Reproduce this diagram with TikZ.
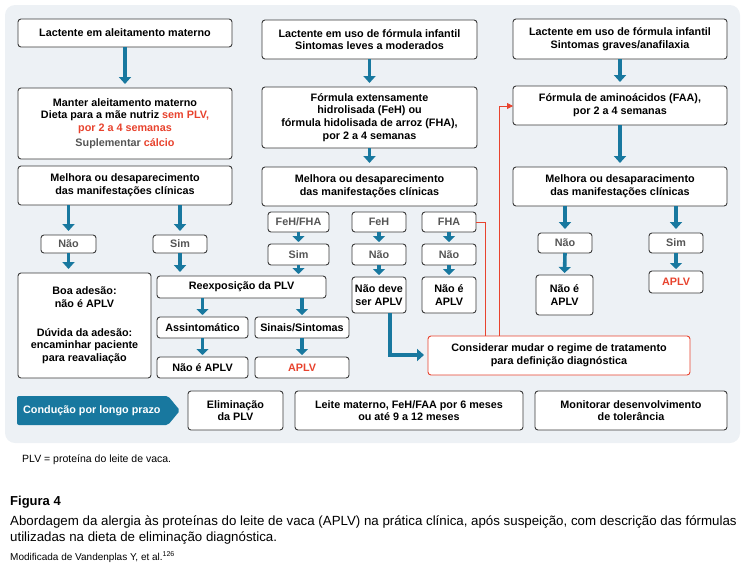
\documentclass[tikz,border=0pt]{standalone}
\usepackage{fontspec}
\setmainfont{Liberation Sans}
\usetikzlibrary{arrows.meta}
\definecolor{panel}{HTML}{EDF1F5}
\definecolor{ablue}{HTML}{18789F}
\definecolor{ared}{HTML}{E8432E}
\definecolor{bgray}{HTML}{3A3A3A}
\definecolor{tgray}{HTML}{555555}
\newcommand\bx[7]{\node[#6, minimum width={(#4-#2)*1pt}, minimum height={(#5-#3)*1pt}] (#1) at ({(#2+#4)/2},{(#3+#5)/2}) {#7};}
\tikzset{
  box/.style={draw=bgray, fill=white, rounded corners=3pt, line width=0.9pt, inner sep=0pt, outer sep=0pt, align=center, font=\bfseries\fontsize{10.8}{12.7}\selectfont, text=black},
  lbl/.style={box, text=tgray},
  redbox/.style={box, draw=ared},
  barrow/.style={draw=ablue, line width=3.6pt, -{Triangle[width=12pt,length=7pt]}, shorten >=4pt},
  sarrow/.style={draw=ablue, line width=3.6pt, -{Triangle[width=12pt,length=6pt]}, shorten >=2pt},
  rline/.style={draw=ared, line width=0.8pt},
}
\begin{document}
\begin{tikzpicture}[x=1pt,y=-1pt]
\useasboundingbox (0,0) rectangle (750,571);
\fill[panel, rounded corners=10pt] (5,5) rectangle (740,443);
% left column
\bx{b1}{18}{19}{232}{47}{box}{Lactente em aleitamento materno}
\bx{b2}{18}{88}{232}{159}{box}{Manter aleitamento materno\\Dieta para a mãe nutriz \textcolor{ared}{sem PLV,}\\\textcolor{ared}{por 2 a 4 semanas}\\[2pt]\textcolor{tgray}{Suplementar} \textcolor{ared}{cálcio}}
\bx{b3}{18}{166}{232}{205}{box}{Melhora ou desaparecimento\\das manifestações clínicas}
\bx{lnao}{41}{235}{96}{253}{lbl}{Não}
\bx{lsim}{153}{235}{207}{253}{lbl}{Sim}
\bx{boa}{18}{273}{151}{378}{box}{Boa adesão:\\não é APLV\\[16pt]Dúvida da adesão:\\encaminhar paciente\\para reavaliação}
\bx{reex}{157}{276}{326}{298}{box}{Reexposição da PLV}
\bx{assin}{157}{317}{248}{338}{box}{Assintomático}
\bx{sinais}{255}{317}{349}{338}{box}{Sinais/Sintomas}
\bx{naoe1}{157}{357}{248}{378}{box}{Não é APLV}
\bx{aplv1}{255}{357}{349}{378}{box}{\textcolor{ared}{APLV}}
% middle column
\bx{m1}{262}{20}{477}{59}{box}{Lactente em uso de fórmula infantil\\Sintomas leves a moderados}
\bx{m2}{262}{87}{477}{148}{box}{Fórmula extensamente\\hidrolisada (FeH) ou\\fórmula hidolisada de arroz (FHA),\\por 2 a 4 semanas}
\bx{m3}{262}{167}{477}{206}{box}{Melhora ou desaparecimento\\das manifestações clínicas}
\bx{fehfha}{268}{212}{329}{232}{lbl}{FeH/FHA}
\bx{msim}{268}{244}{329}{265}{lbl}{Sim}
\bx{feh}{352}{212}{406}{232}{lbl}{FeH}
\bx{mnao1}{352}{244}{406}{265}{lbl}{Não}
\bx{naodeve}{352}{277}{406}{313}{box}{Não deve\\ser APLV}
\bx{fha}{422}{212}{476}{232}{lbl}{FHA}
\bx{mnao2}{422}{244}{476}{265}{lbl}{Não}
\bx{naoe2}{422}{277}{476}{313}{box}{Não é\\APLV}
\bx{cons}{428}{336}{690}{375}{redbox}{Considerar mudar o regime de tratamento\\para definição diagnóstica}
% right column
\bx{r1}{513}{19}{727}{59}{box}{Lactente em uso de fórmula infantil\\Sintomas graves/anafilaxia}
\bx{r2}{513}{86}{727}{125}{box}{Fórmula de aminoácidos (FAA),\\por 2 a 4 semanas}
\bx{r3}{513}{167}{727}{206}{box}{Melhora ou desaparacimento\\das manifestações clínicas}
\bx{rnao}{538}{233}{592}{253}{lbl}{Não}
\bx{rsim}{649}{233}{703}{253}{lbl}{Sim}
\bx{rnaoe}{536}{275}{593}{315}{box}{Não é\\APLV}
\bx{raplv}{649}{271}{703}{293}{box}{\textcolor{ared}{APLV}}
% bottom row
\fill[ablue, rounded corners=2pt] (17,396) -- (168,396) -- (180,410.5) -- (168,425) -- (17,425) -- cycle;
\node[anchor=west, text=white, font=\bfseries\fontsize{10.8}{12.7}\selectfont, inner sep=0pt] (cond) at (23,410.5) {Condução por longo prazo};
\bx{elim}{188}{391}{283}{430}{box}{Eliminação\\da PLV}
\bx{leite}{295}{391}{523}{430}{box}{Leite materno, FeH/FAA por 6 meses\\ou até 9 a 12 meses}
\bx{monit}{535}{391}{727}{430}{box}{Monitorar desenvolvimento\\de tolerância}
% arrows
\draw[barrow] (b1.south) -- (b2.north);
\draw[barrow] (m1.south) -- (m2.north);
\draw[barrow] (m2.south) -- (m3.north);
\draw[barrow] (r1.south) -- (r2.north);
\draw[barrow] (r2.south) -- (r3.north);
\draw[barrow] (lnao.north |- b3.south) -- (lnao.north);
\draw[barrow] (lsim.north |- b3.south) -- (lsim.north);
\draw[barrow] (lnao.south) -- (lnao.south |- boa.north);
\draw[barrow] (lsim.south) -- (lsim.south |- reex.north);
\draw[sarrow] (assin.north |- reex.south) -- (assin.north);
\draw[sarrow] (sinais.north |- reex.south) -- (sinais.north);
\draw[sarrow] (assin.south) -- (naoe1.north);
\draw[sarrow] (sinais.south) -- (aplv1.north);
\draw[sarrow] (fehfha.south) -- (msim.north);
\draw[sarrow] (msim.south) -- (msim.south |- reex.north);
\draw[sarrow] (feh.south) -- (mnao1.north);
\draw[sarrow] (mnao1.south) -- (naodeve.north);
\draw[sarrow] (fha.south) -- (mnao2.north);
\draw[sarrow] (mnao2.south) -- (naoe2.north);
\draw[barrow] (rnao.north |- r3.south) -- (rnao.north);
\draw[barrow] (rsim.north |- r3.south) -- (rsim.north);
\draw[sarrow] (rnao.south) -- (rnaoe.north);
\draw[sarrow] (rsim.south) -- (raplv.north);
\coordinate (nd) at (390,313);
\draw[barrow, line join=miter] (nd) -- (390,355) -- (cons.west |- 0,355);
% red lines
\draw[rline] (fha.east) -- (485,222) -- (485,336);
\draw[rline, -{Triangle[width=6pt,length=6pt]}] (499,336) -- (499,106) -- (r2.west |- 0,106);
% texts
\node[anchor=base west, inner sep=0pt, font=\fontsize{10.5}{12}\selectfont] (fn) at (22,462) {PLV = proteína do leite de vaca.};
\node[anchor=base west, inner sep=0pt, font=\bfseries\fontsize{13}{15}\selectfont] (fig) at (10,505) {Figura 4};
\node[anchor=base west, inner sep=0pt, align=left, font=\fontsize{13.3}{16}\selectfont] (cap) at (10,541) {Abordagem da alergia às proteínas do leite de vaca (APLV) na prática clínica, após suspeição, com descrição das fórmulas\\utilizadas na dieta de eliminação diagnóstica.};
\node[anchor=base west, inner sep=0pt, font=\fontsize{10}{12}\selectfont] (mod) at (10,560) {Modificada de Vandenplas Y, et al.\textsuperscript{126}};
\end{tikzpicture}
\end{document}
